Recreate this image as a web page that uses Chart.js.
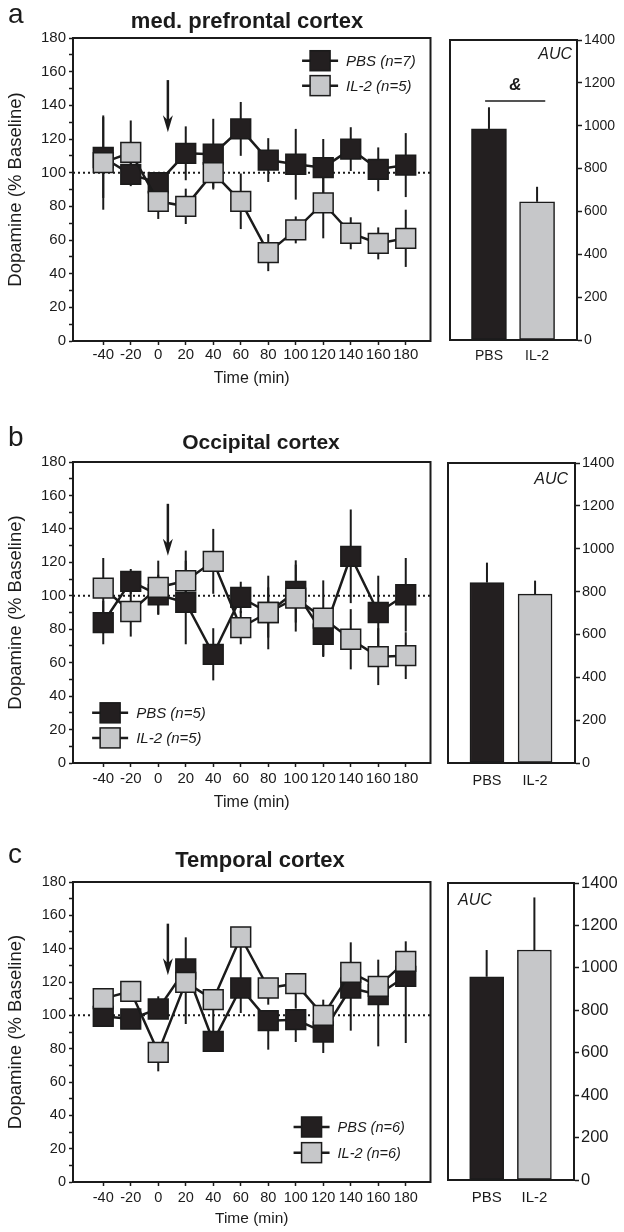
<!DOCTYPE html>
<html>
<head>
<meta charset="utf-8">
<script src="https://cdn.jsdelivr.net/npm/chart.js@4.4.1/dist/chart.umd.min.js"></script>
<style>
  html, body { margin: 0; padding: 0; background: #fff; }
  body { width: 624px; height: 1232px; position: relative; overflow: hidden; }
  canvas { position: absolute; }
</style>
</head>
<body>
<canvas id="lineA" width="446" height="392" style="left:0;top:0"></canvas>
<canvas id="barA" width="178" height="392" style="left:446px;top:0"></canvas>
<canvas id="lineB" width="446" height="420" style="left:0;top:400px"></canvas>
<canvas id="barB" width="178" height="420" style="left:446px;top:400px"></canvas>
<canvas id="lineC" width="446" height="402" style="left:0;top:830px"></canvas>
<canvas id="barC" width="178" height="402" style="left:446px;top:830px"></canvas>
<script>
// shared axes
const times = [-40, -20, 0, 20, 40, 60, 80, 100, 120, 140, 160, 180];
const doseTicks = [0, 20, 40, 60, 80, 100, 120, 140, 160, 180];
const aucTicks = [0, 200, 400, 600, 800, 1000, 1200, 1400];
const groups = ["PBS", "IL-2"];

// a: med. prefrontal cortex
const pfcPbs = [109, 99, 94, 111.5, 111, 126, 107.5, 105, 103, 114, 102, 104.5];
const pfcPbsErr = [24, 7, 6, 16, 21, 16, 13, 21, 17, 13, 13, 19];
const pfcIl2 = [106, 112, 83, 80, 100, 83, 52.5, 66, 82, 64, 58, 61];
const pfcIl2Err = [28, 19, 10.5, 10.5, 9, 16.5, 11, 8, 21, 9.5, 9.5, 17];
const pfcN = [7, 5];
const pfcAuc = [985, 645];
const pfcAucErr = [101, 70];

// b: occipital cortex
const occPbs = [84, 108.6, 100.6, 96, 65, 99, 90, 102.6, 77, 123.6, 90, 100.6];
const occPbsErr = [13, 7.4, 12, 25, 15.6, 9.4, 22, 18.6, 13.6, 28, 22, 22];
const occIl2 = [104.6, 90.6, 105, 109, 120.6, 81, 90, 98.6, 86.6, 74, 63.6, 64.2];
const occIl2Err = [18, 15, 16, 18, 19.4, 10, 15, 20, 22.6, 18, 17, 14];
const occN = [5, 5];
const occAuc = [842, 788];
const occAucErr = [93, 63];

// c: temporal cortex ([down, up])
const tmpPbs = [99.4, 97.8, 103.8, 127.8, 84.4, 116.4, 96.8, 97.4, 90, 116.4, 112.4, 123.4];
const tmpPbsErr = [[4, 4], [4, 4], [0, 7.6], [0, 19], [3, 3], [15, 0], [17.4, 0], [13.4, 0], [12.6, 0], [25.6, 0], [31, 0], [40, 0]];
const tmpIl2 = [110, 114.4, 77.8, 119.8, 109.4, 147, 116.4, 119, 100, 125.8, 117.4, 132.4];
const tmpIl2Err = [[3, 3], [3, 3], [11.4, 0], [25, 0], [20, 0], [30, 0], [10, 0], [15, 0], [0, 9.4], [0, 18], [0, 16], [0, 12]];
const tmpN = [6, 6];
const tmpAuc = [958, 1084];
const tmpAucErr = [126, 248];

const ink = "#1b1b1b";
const darkFill = "#231f20";
const greyFill = "#c6c7c9";
const family = '"Liberation Sans", Arial, sans-serif';
Chart.defaults.font.family = family;
Chart.defaults.color = ink;
Chart.defaults.animation = false;

// box around plot area
const frame = {
  id: "frame",
  afterDraw(chart) {
    const { ctx, chartArea: a } = chart;
    ctx.save();
    ctx.strokeStyle = ink;
    ctx.lineWidth = 2;
    ctx.strokeRect(a.left, a.top, a.right - a.left, a.bottom - a.top);
    ctx.restore();
  },
};

// error bars drawn under the markers
const errorBars = {
  id: "errorBars",
  beforeDatasetsDraw(chart) {
    const { ctx } = chart;
    const y = chart.scales.y;
    ctx.save();
    ctx.strokeStyle = ink;
    ctx.lineWidth = 2;
    chart.data.datasets.forEach((ds, i) => {
      if (!ds.errors) return;
      chart.getDatasetMeta(i).data.forEach((el, j) => {
        const v = ds.data[j].y;
        const e = ds.errors[j];
        const [down, up] = Array.isArray(e) ? e : [e, e];
        ctx.beginPath();
        ctx.moveTo(el.x, y.getPixelForValue(v - down));
        ctx.lineTo(el.x, y.getPixelForValue(v + up));
        ctx.stroke();
      });
    });
    ctx.restore();
  },
};

// dotted baseline, injection arrow, legend, panel letter and title
const annotations = {
  id: "notes",
  beforeDatasetsDraw(chart, args, o) {
    const { ctx, chartArea: a, scales: { x, y } } = chart;
    ctx.save();
    if (o.baseline !== undefined) {
      const py = y.getPixelForValue(o.baseline);
      ctx.strokeStyle = ink;
      ctx.lineWidth = 2;
      ctx.setLineDash([2, 3]);
      ctx.beginPath();
      ctx.moveTo(a.left, py);
      ctx.lineTo(a.right, py);
      ctx.stroke();
      ctx.setLineDash([]);
    }
    if (o.arrow) {
      const px = x.getPixelForValue(o.arrow.x);
      const top = y.getPixelForValue(o.arrow.from);
      const tip = y.getPixelForValue(o.arrow.to);
      ctx.strokeStyle = ink;
      ctx.fillStyle = ink;
      ctx.lineWidth = 2.5;
      ctx.beginPath();
      ctx.moveTo(px, top);
      ctx.lineTo(px, tip - 10);
      ctx.stroke();
      ctx.beginPath();
      ctx.moveTo(px - 5, tip - 17);
      ctx.lineTo(px, tip - 12);
      ctx.lineTo(px + 5, tip - 17);
      ctx.lineTo(px, tip);
      ctx.closePath();
      ctx.fill();
    }
    ctx.restore();
  },
  afterDraw(chart, args, o) {
    const { ctx, chartArea: a, scales: { x, y } } = chart;
    ctx.save();
    if (o.key) {
      const cx = x.getPixelForValue(o.key.x);
      o.key.rows.forEach((row, i) => {
        const ds = chart.data.datasets[i];
        const cy = y.getPixelForValue(row);
        ctx.strokeStyle = ink;
        ctx.lineWidth = 2.5;
        ctx.beginPath();
        ctx.moveTo(cx - 18, cy);
        ctx.lineTo(cx + 18, cy);
        ctx.stroke();
        ctx.fillStyle = ds.pointBackgroundColor;
        ctx.fillRect(cx - 10, cy - 10, 20, 20);
        ctx.lineWidth = 1.5;
        ctx.strokeRect(cx - 10, cy - 10, 20, 20);
        ctx.fillStyle = ink;
        ctx.font = `italic ${o.key.size}px ${family}`;
        ctx.textBaseline = "middle";
        ctx.textAlign = "left";
        ctx.fillText(ds.label, cx + 26, cy + 1);
      });
    }
    if (o.head) {
      ctx.fillStyle = ink;
      ctx.textBaseline = "alphabetic";
      ctx.textAlign = "left";
      ctx.font = `28px ${family}`;
      ctx.fillText(o.head.letter, 8, o.head.letterY);
      ctx.font = `bold ${o.head.size}px ${family}`;
      ctx.textAlign = "center";
      ctx.textBaseline = "middle";
      ctx.fillText(o.head.title, o.head.titleX, o.head.titleY);
    }
    if (o.auc) {
      ctx.fillStyle = ink;
      ctx.font = `italic 16px ${family}`;
      ctx.textBaseline = "middle";
      ctx.textAlign = o.auc.align;
      const tx = o.auc.align === "right" ? a.right - o.auc.dx : a.left + o.auc.dx;
      ctx.fillText("AUC", tx, a.top + o.auc.dy);
    }
    if (o.sig) {
      const py = y.getPixelForValue(o.sig.y);
      ctx.strokeStyle = ink;
      ctx.lineWidth = 1.5;
      ctx.beginPath();
      ctx.moveTo(x.getPixelForValue(o.sig.from), py);
      ctx.lineTo(x.getPixelForValue(o.sig.to), py);
      ctx.stroke();
      ctx.fillStyle = ink;
      ctx.font = `bold italic 17px ${family}`;
      ctx.textAlign = "center";
      ctx.textBaseline = "middle";
      ctx.fillText(o.sig.text, x.getPixelForValue(o.sig.at), y.getPixelForValue(o.sig.textY));
    }
    ctx.restore();
  },
};

function makeLine(id, pbs, pbsErr, il2, il2Err, n, geo, notes) {
  const series = [pbs, il2];
  const errs = [pbsErr, il2Err];
  new Chart(document.getElementById(id), {
    type: "line",
    data: {
      datasets: groups.map((g, i) => ({
        label: `${g} (n=${n[i]})`,
        data: times.map((t, j) => ({ x: t, y: series[i][j] })),
        errors: errs[i],
        order: i === 0 ? 2 : 1,
        borderColor: ink,
        borderWidth: 2.5,
        pointStyle: "rect",
        pointRadius: 14,
        pointHoverRadius: 14,
        pointBackgroundColor: i === 0 ? darkFill : greyFill,
        pointBorderColor: ink,
        pointBorderWidth: 1.5,
        tension: 0,
      })),
    },
    options: {
      responsive: false,
      layout: { padding: { top: geo.top, right: geo.right, left: 0, bottom: 0 } },
      plugins: { legend: { display: false }, tooltip: { enabled: false }, notes },
      scales: {
        x: {
          type: "linear",
          min: -62,
          max: 198,
          afterBuildTicks: (s) => { s.ticks = times.map((v) => ({ value: v })); },
          afterFit: (s) => { s.height = geo.xh; },
          grid: { drawOnChartArea: false, tickLength: 4, tickColor: ink, tickWidth: 1.5 },
          border: { color: ink, width: 2 },
          ticks: { font: { size: geo.tick }, padding: geo.tickPad, maxRotation: 0, autoSkip: false, color: ink, callback: (v) => String(v) },
          title: { display: true, text: "Time (min)", font: { size: geo.tick + 1 }, padding: { bottom: geo.titlePad, top: 0 }, color: ink },
        },
        y: {
          min: 0,
          max: 180,
          afterFit: (s) => { s.width = 73; },
          grid: { drawOnChartArea: false, tickLength: 4, tickColor: ink, tickWidth: 1.5 },
          border: { color: ink, width: 2 },
          ticks: {
            stepSize: 10,
            font: { size: geo.tick },
            padding: 3,
            color: ink,
            autoSkip: false,
            callback: (v) => (doseTicks.includes(v) ? String(v) : ""),
          },
          title: { display: true, text: "Dopamine (% Baseline)", font: { size: 18.5 }, padding: { top: 5 }, color: ink },
        },
      },
    },
    plugins: [errorBars, annotations, frame],
  });
}

function makeBar(id, auc, aucErr, geo, notes) {
  new Chart(document.getElementById(id), {
    type: "bar",
    data: {
      datasets: [{
        data: groups.map((g, i) => ({ x: i + 1, y: auc[i] })),
        errors: aucErr.map((e) => [0, e]),
        backgroundColor: [darkFill, greyFill],
        borderColor: ink,
        borderWidth: 1.5,
        borderSkipped: false,
        barThickness: geo.bar,
      }],
    },
    options: {
      responsive: false,
      layout: { padding: { top: geo.top, left: geo.left, right: 0, bottom: 0 } },
      plugins: { legend: { display: false }, tooltip: { enabled: false }, notes },
      scales: {
        x: {
          type: "linear",
          offset: false,
          min: 0.19,
          max: 2.83,
          afterBuildTicks: (s) => { s.ticks = groups.map((g, i) => ({ value: i + 1 })); },
          afterFit: (s) => { s.height = geo.xh; },
          grid: { display: false },
          border: { color: ink, width: 2 },
          ticks: { font: { size: geo.xtick }, padding: geo.tickPad, color: ink, callback: (v) => groups[v - 1] },
        },
        y: {
          position: "right",
          min: 0,
          max: 1400,
          afterBuildTicks: (s) => { s.ticks = aucTicks.map((v) => ({ value: v })); },
          afterFit: (s) => { s.width = geo.yw; },
          grid: { drawOnChartArea: false, tickLength: 5, tickColor: ink, tickWidth: 1.5 },
          border: { color: ink, width: 2 },
          ticks: { font: { size: geo.ytick }, padding: 2, color: ink, callback: (v) => String(v) },
        },
      },
    },
    plugins: [errorBars, annotations, frame],
  });
}

const arrow = { x: 7, from: 155, to: 124 };

makeLine("lineA", pfcPbs, pfcPbsErr, pfcIl2, pfcIl2Err, pfcN,
  { top: 38, right: 6, xh: 51, tick: 15, tickPad: 1, titlePad: 4 },
  { baseline: 100, arrow, key: { x: 117.7, rows: [166.5, 151.7], size: 15 },
    head: { letter: "a", letterY: 23, title: "med. prefrontal cortex", titleX: 247, titleY: 21.7, size: 22 } });
makeBar("barA", pfcAuc, pfcAucErr,
  { top: 40, left: 4, yw: 47, xh: 52, bar: 35, xtick: 14, ytick: 14, tickPad: 0 },
  { auc: { align: "right", dx: 5, dy: 15 }, sig: { from: 0.92, to: 2.17, y: 1115, text: "&", at: 1.55, textY: 1190 } });

makeLine("lineB", occPbs, occPbsErr, occIl2, occIl2Err, occN,
  { top: 62, right: 6, xh: 57, tick: 15, tickPad: 3, titlePad: 8 },
  { baseline: 100, arrow, key: { x: -35, rows: [30, 15], size: 15 },
    head: { letter: "b", letterY: 46, title: "Occipital cortex", titleX: 261, titleY: 43, size: 21 } });
makeBar("barB", occAuc, occAucErr,
  { top: 63, left: 2, yw: 49, xh: 57, bar: 34, xtick: 14.5, ytick: 14.5, tickPad: 1 },
  { auc: { align: "right", dx: 7, dy: 17 } });

makeLine("lineC", tmpPbs, tmpPbsErr, tmpIl2, tmpIl2Err, tmpN,
  { top: 52, right: 5, xh: 50, tick: 14.5, tickPad: 3, titlePad: 4 },
  { baseline: 100, arrow, key: { x: 111.5, rows: [33, 17.6], size: 14.5 },
    head: { letter: "c", letterY: 33, title: "Temporal cortex", titleX: 260, titleY: 30.7, size: 22 } });
makeBar("barC", tmpAuc, tmpAucErr,
  { top: 53, left: 2, yw: 50, xh: 52, bar: 34, xtick: 15, ytick: 16.5, tickPad: 1 },
  { auc: { align: "left", dx: 10, dy: 18 } });
</script>
</body>
</html>
